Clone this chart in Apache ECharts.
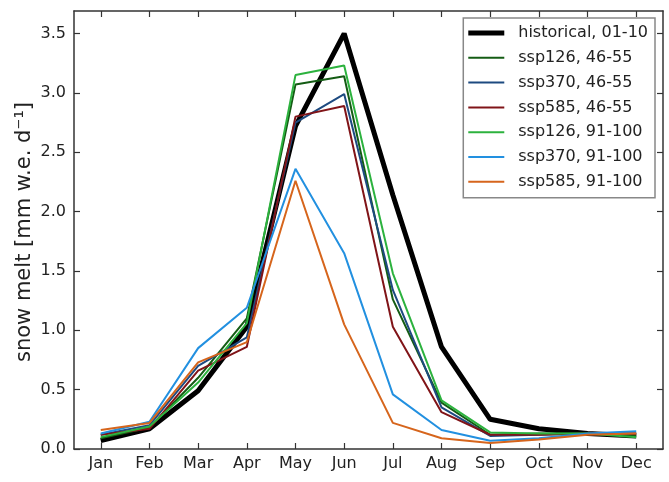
<!DOCTYPE html>
<html><head><meta charset="utf-8">
<script src="https://cdn.jsdelivr.net/npm/echarts@6/dist/echarts.min.js"></script>
<style>html,body{margin:0;padding:0;background:#fff}#c{width:669px;height:482px}</style>
</head><body><div id="c"></div>
<script>
const months = ['Jan','Feb','Mar','Apr','May','Jun','Jul','Aug','Sep','Oct','Nov','Dec'];
const yTicks = [0, 0.5, 1, 1.5, 2, 2.5, 3, 3.5];
const yTitle = 'snow melt [mm w.e. d⁻¹]';
const seriesNames = ['historical, 01-10','ssp126, 46-55','ssp370, 46-55','ssp585, 46-55','ssp126, 91-100','ssp370, 91-100','ssp585, 91-100'];
const historical   = [0.07, 0.17, 0.49, 1.03, 2.72, 3.50, 2.14, 0.86, 0.25, 0.17, 0.13, 0.11];
const ssp126_46_55 = [0.09, 0.18, 0.60, 1.10, 3.07, 3.14, 1.26, 0.39, 0.12, 0.13, 0.13, 0.11];
const ssp370_46_55 = [0.12, 0.20, 0.70, 0.94, 2.75, 2.99, 1.34, 0.35, 0.11, 0.12, 0.13, 0.13];
const ssp585_46_55 = [0.12, 0.17, 0.66, 0.86, 2.80, 2.89, 1.03, 0.31, 0.12, 0.12, 0.13, 0.13];
const ssp126_91_100= [0.10, 0.19, 0.56, 1.06, 3.15, 3.23, 1.48, 0.41, 0.14, 0.13, 0.13, 0.10];
const ssp370_91_100= [0.13, 0.23, 0.85, 1.19, 2.36, 1.65, 0.46, 0.16, 0.07, 0.09, 0.13, 0.15];
const ssp585_91_100= [0.16, 0.22, 0.73, 0.90, 2.26, 1.05, 0.22, 0.09, 0.05, 0.08, 0.12, 0.13];
const allData = [historical, ssp126_46_55, ssp370_46_55, ssp585_46_55, ssp126_91_100, ssp370_91_100, ssp585_91_100];
const colors = ['#000000','#145c14','#1d4a80','#801418','#2cb23e','#2290e0','#d6651c'];
const widths = [5, 2, 2, 2, 2, 2, 2];
const monthIdx = months.map((m,i)=>i);
const font = 'DejaVu Sans';

const chart = echarts.init(document.getElementById('c'), null, {renderer:'canvas'});
const xCommon = {
  type:'value', min:-0.55, max:11.55,
  splitLine:{show:false},
  axisLine:{show:true, onZero:false, lineStyle:{color:'#333', width:1.5}},
  axisTick:{show:true, inside:true, length:6, lineStyle:{color:'#333', width:1.2}, customValues: monthIdx},
};
const yCommon = {
  type:'value', min:0, max:3.69,
  splitLine:{show:false},
  axisLine:{show:true, onZero:false, lineStyle:{color:'#333', width:1.5}},
  axisTick:{show:true, inside:true, length:6, lineStyle:{color:'#333', width:1.2}, customValues: yTicks},
};
const legendData = seriesNames.map((n,k)=>({
  name:n,
  icon: k===0 ? 'path://M0,0h36v5h-36z' : 'path://M0,0h36v2h-36z',
  itemStyle:{color:colors[k]}
}));
chart.setOption({
  animation:false,
  textStyle:{fontFamily:font},
  grid:{left:74, right:6, top:11, bottom:33},
  graphic:[{
    type:'text', x:25, y:232, rotation:Math.PI/2,
    style:{text:yTitle, fill:'#222', font:'21px "DejaVu Sans"', align:'center', verticalAlign:'middle'}
  }],
  legend:{
    orient:'vertical', right:14, top:18,
    data: legendData,
    itemWidth:36, itemHeight:16, itemGap:8.8,
    borderColor:'#888', borderWidth:1.5, borderRadius:0,
    padding:[7,7,8,5], backgroundColor:'#fff',
    textStyle:{fontFamily:font, fontSize:16, color:'#222', padding:[0,0,0,9]},
  },
  xAxis:[
    Object.assign({}, xCommon, {position:'bottom',
      axisLabel:{show:true, customValues: monthIdx, formatter:(v)=>months[Math.round(v)], color:'#222', fontSize:16, fontFamily:font, margin:7}}),
    Object.assign({}, xCommon, {position:'top', axisLabel:{show:false}})
  ],
  yAxis:[
    Object.assign({}, yCommon, {position:'left',
      axisLabel:{show:true, customValues: yTicks, formatter:(v)=>v.toFixed(1), color:'#222', fontSize:16, fontFamily:font, margin:8}}),
    Object.assign({}, yCommon, {position:'right', axisLabel:{show:false}})
  ],
  series: seriesNames.map((n,k)=>({
    name:n, type:'line', xAxisIndex:0, yAxisIndex:0,
    data: allData[k].map((v,i)=>[i, v]),
    symbol:'none', showSymbol:false,
    lineStyle:{color:colors[k], width:widths[k]},
    itemStyle:{color:colors[k]},
    z: 2
  }))
});
</script></body></html>
